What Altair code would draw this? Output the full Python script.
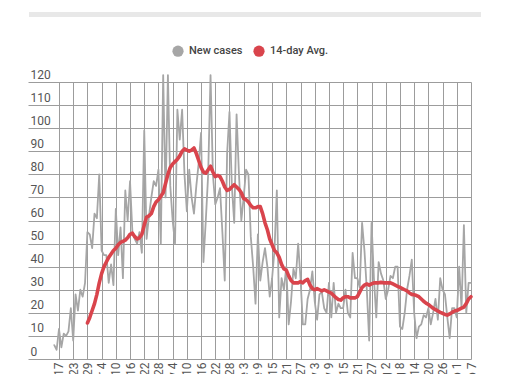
import altair as alt
import pandas as pd

# Day index: 0 = Mar 17 (2020). Ticks every 6 days.
new_cases_start = -2
new_cases = [
    6, 4, 13, 5, 11, 10, 12, 22, 8, 28,
    21, 30, 27, 33, 55, 54, 48, 63, 61, 80,
    47, 45, 45, 33, 41, 32, 65, 45, 57, 35,
    73, 60, 77, 55, 52, 50, 55, 46, 99, 52,
    62, 70, 77, 75, 82, 50, 123, 70, 123, 75,
    60, 50, 108, 95, 108, 80, 64, 82, 70, 63,
    75, 85, 98, 42, 60, 80, 123, 80, 67, 70,
    74, 55, 34, 89, 107, 75, 59, 106, 80, 60,
    70, 82, 80, 53, 40, 24, 54, 34, 42, 48,
    40, 27, 35, 47, 73, 18, 35, 30, 40, 15,
    25, 39, 35, 50, 35, 15, 15, 26, 30, 38,
    25, 17, 28, 29, 22, 20, 33, 18, 33, 20,
    24, 22, 22, 30, 20, 18, 46, 35, 35, 31,
    59, 47, 30, 8, 59, 35, 18, 42, 37, 34,
    26, 30, 36, 35, 40, 40, 14, 13, 20, 30,
    36, 43, 20, 9, 14, 15, 19, 18, 22, 15,
    20, 26, 17, 35, 30, 28, 18, 9, 22, 22,
    18, 40, 22, 58, 20, 33, 33,
]

avg_start = 12
avg14 = [
    15.6, 18, 21, 24, 28, 33, 37, 40, 42, 44,
    45.5, 47, 48, 49.5, 50.5, 51, 51.5, 52.5, 54, 54.5,
    53, 52, 52.5, 54, 58, 61.5, 62, 63, 66, 68,
    69, 70.5, 72, 76, 80, 83, 84.5, 85.5, 86.5, 88,
    90, 91, 90.5, 90, 90.5, 91.4, 89, 86, 83, 81,
    80.5, 82, 83.5, 81, 79, 79.5, 79, 77, 74.5, 73,
    73.5, 74.5, 75.5, 74.5, 73.5, 72, 69.5, 69, 68, 66.5,
    65.5, 65.5, 66, 66, 63, 59, 56, 52, 49.5, 47,
    46, 44, 41, 39, 38.5, 36, 34, 33, 33, 33,
    33.5, 33, 34, 34.5, 32, 30.5, 30, 30.5, 30, 29.5,
    30, 29.5, 29, 28.5, 27.5, 26.5, 25.8, 25.5, 26.5, 27,
    27, 26.5, 26.5, 26.5, 27, 29, 31, 32, 32.5, 32,
    32.5, 33, 33, 33, 33.2, 33, 33, 33, 33, 32.5,
    32, 31.5, 31, 30.5, 30, 29.5, 28.6, 28, 27.8, 27.5,
    27, 26, 25, 24.2, 23.6, 22.8, 22, 21.4, 20.8, 20.2,
    19.8, 19.3, 19, 19.5, 20.2, 20.8, 21, 21.5, 22, 22.5,
    24, 26, 27,
]

tick_days = list(range(0, 175, 6))
tick_labels = [
    "Mar 17", "Mar 23", "Mar 29", "Apr 4", "Apr 10", "Apr 16", "Apr 22",
    "Apr 28", "May 4", "May 10", "May 16", "May 22", "May 28", "June 3",
    "June 9", "June 15", "June 21", "June 27", "July 3", "July 9",
    "July 15", "July 21", "July 27", "Aug 2", "Aug 8", "Aug 14", "Aug 20",
    "Aug 26", "Sep 1", "Sep 7",
]
y_ticks = list(range(0, 121, 10))

series_names = ["New cases", "14-day Avg."]
series_colors = ["#a6a6a6", "#d9444c"]

rows = []
for i, v in enumerate(new_cases):
    rows.append({"day": new_cases_start + i, "value": v, "series": series_names[0]})
for i, v in enumerate(avg14):
    rows.append({"day": avg_start + i, "value": v, "series": series_names[1]})
df = pd.DataFrame(rows)

label_expr = "[" + ",".join("'%s'" % s for s in tick_labels) + "][round(datum.value / 6)]"

FONT = "Roboto"
GRID = "#9c9c9c"
x_start = -13.09

x_enc = alt.X(
    "day:Q",
    scale=alt.Scale(domain=[x_start, 174], nice=False, zero=False),
    axis=alt.Axis(
        values=tick_days, labelExpr=label_expr, labelAngle=270,
        labelAlign="right", labelBaseline="middle", labelPadding=3,
        ticks=False, domain=False, grid=True, gridColor=GRID, gridWidth=1,
        title=None, labelFont=FONT, labelFontSize=12, labelColor="#555555",
    ),
)
y_enc = alt.Y(
    "value:Q",
    scale=alt.Scale(domain=[0, 120], nice=False),
    axis=alt.Axis(
        values=y_ticks, ticks=False, domain=False, grid=True, gridColor=GRID,
        gridWidth=1, labelAlign="left", labelPadding=-2, labelBaseline="alphabetic",
        labelOffset=-4, title=None, labelFont=FONT, labelFontSize=12,
        labelColor="#555555",
    ),
)
color_scale = alt.Scale(domain=series_names, range=series_colors)

base = alt.Chart(df)

grey_line = base.transform_filter(alt.datum.series == series_names[0]).mark_line(
    color=series_colors[0], strokeWidth=1.8, strokeJoin="round", strokeCap="round"
).encode(x=x_enc, y=y_enc)

red_line = base.transform_filter(alt.datum.series == series_names[1]).mark_line(
    color=series_colors[1], strokeWidth=3.6, strokeJoin="round", strokeCap="round"
).encode(x=x_enc, y=y_enc)

legend_layer = base.mark_point(filled=True, opacity=0).encode(
    x=x_enc,
    y=y_enc,
    color=alt.Color(
        "series:N",
        scale=color_scale,
        legend=alt.Legend(
            title=None, orient="none", legendX=144, legendY=-37,
            direction="horizontal", symbolType="circle", symbolSize=125,
            symbolOpacity=1, symbolStrokeWidth=0, labelFont=FONT,
            labelFontSize=11, labelFontWeight=500, labelColor="#444444",
            labelOffset=5, columnPadding=10,
        ),
    ),
)

deco = pd.DataFrame({"k": [0]})
title_bar = alt.Chart(deco).mark_rule(color="#e8e8e8", strokeWidth=5).encode(
    x=alt.value(1), x2=alt.value(453), y=alt.value(-67.5)
)

# Total SVG size kept inside the 510x382 window (8px page margin on each side).
chart = alt.layer(title_bar, legend_layer, grey_line, red_line).properties(
    width=443, height=277,
    autosize=alt.AutoSizeParams(type="none"),
    padding={"left": 20, "top": 74, "right": 30, "bottom": 15},
    background="white",
).configure_view(strokeWidth=0)

chart.save("out.html", embed_options={"renderer": "svg", "actions": False})
